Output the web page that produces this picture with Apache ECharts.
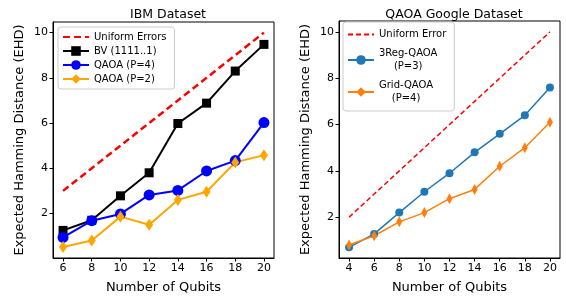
<!DOCTYPE html>
<html>
<head>
<meta charset="utf-8">
<script src="https://cdn.jsdelivr.net/npm/echarts@6/dist/echarts.min.js"></script>
<style>
  html, body { margin: 0; padding: 0; background: #fff; }
  #chart { width: 566px; height: 299px; }
</style>
</head>
<body>
<div id="chart"></div>
<script>
// IBM dataset (left)
const ibmQubits = [6, 8, 10, 12, 14, 16, 18, 20]
const ibmUniform = [3, 4, 5, 6, 7, 8, 9, 10]
const ibmBV = [1.25, 1.7, 2.78, 3.8, 5.98, 6.88, 8.3, 9.48]
const ibmQaoaP4 = [0.94, 1.68, 1.98, 2.82, 3.02, 3.88, 4.34, 6.02]
const ibmQaoaP2 = [0.52, 0.8, 1.86, 1.5, 2.6, 2.96, 4.26, 4.58]

// Google dataset (right)
const googleQubits = [4, 6, 8, 10, 12, 14, 16, 18, 20]
const googleUniform = [2, 3, 4, 5, 6, 7, 8, 9, 10]
const google3Reg = [0.7, 1.28, 2.2, 3.1, 3.9, 4.8, 5.6, 6.4, 7.6]
const googleGrid = [0.8, 1.2, 1.8, 2.2, 2.8, 3.2, 4.2, 5.0, 6.1]

const ibmTicks = [6, 8, 10, 12, 14, 16, 18, 20]
const googleTicks = [4, 6, 8, 10, 12, 14, 16, 18, 20]
const yTicks = [2, 4, 6, 8, 10]

const font = 'DejaVu Sans'
const pairs = (xs, ys) => xs.map((x, i) => [x, ys[i]])
// legend entry showing only the dashed line, no marker
const lineOnly = name => ({ name, itemStyle: { opacity: 0 } })

function xAxisFor(gridIndex, min, max, ticks) {
  return {
    type: 'value',
    gridIndex,
    min,
    max,
    name: 'Number of Qubits',
    nameLocation: 'middle',
    nameGap: 23,
    nameTextStyle: { fontFamily: font, fontSize: 13, color: '#000' },
    splitLine: { show: false },
    axisLine: { show: true, onZero: false, lineStyle: { color: '#000', width: 1 } },
    axisTick: { show: true, inside: false, length: 3.5, customValues: ticks, lineStyle: { color: '#000' } },
    axisLabel: { customValues: ticks, fontFamily: font, fontSize: 11, color: '#000', margin: 5 }
  }
}

function yAxisFor(gridIndex, min, max) {
  return {
    type: 'value',
    gridIndex,
    min,
    max,
    name: 'Expected Hamming Distance (EHD)',
    nameLocation: 'middle',
    nameGap: 27,
    nameTextStyle: { fontFamily: font, fontSize: 13, color: '#000' },
    splitLine: { show: false },
    axisLine: { show: true, onZero: false, lineStyle: { color: '#000', width: 1 } },
    axisTick: { show: true, inside: false, length: 3.5, customValues: yTicks, lineStyle: { color: '#000' } },
    axisLabel: { customValues: yTicks, fontFamily: font, fontSize: 11, color: '#000', margin: 5 }
  }
}

const chart = echarts.init(document.getElementById('chart'), null, { renderer: 'canvas' })

chart.setOption({
  animation: false,
  backgroundColor: '#fff',
  title: [
    { text: 'IBM Dataset', left: 163, top: 3, textAlign: 'center',
      textStyle: { fontFamily: font, fontSize: 12.5, fontWeight: 'normal', color: '#000' } },
    { text: 'QAOA Google Dataset', left: 449, top: 3, textAlign: 'center',
      textStyle: { fontFamily: font, fontSize: 12.5, fontWeight: 'normal', color: '#000' } }
  ],
  grid: [
    { left: 53, top: 22, width: 221, height: 239, show: true, borderColor: '#000', borderWidth: 1 },
    { left: 339, top: 21, width: 221, height: 240, show: true, borderColor: '#000', borderWidth: 1 }
  ],
  legend: [
    {
      data: [lineOnly('Uniform Errors'), 'BV (1111..1)', 'QAOA (P=4)', 'QAOA (P=2)'],
      orient: 'vertical', left: 58, top: 27,
      padding: [5, 8, 5, 4], itemGap: 4, itemWidth: 26, itemHeight: 12,
      backgroundColor: 'rgba(255,255,255,0.8)', borderColor: '#ccc', borderWidth: 1, borderRadius: 3,
      textStyle: { fontFamily: font, fontSize: 10, color: '#000' }
    },
    {
      data: [lineOnly('Uniform Error'), '3Reg-QAOA\n(P=3)', 'Grid-QAOA\n(P=4)'],
      orient: 'vertical', left: 343, top: 22,
      padding: [6, 8, 6, 4], itemGap: 6, itemWidth: 26, itemHeight: 12,
      backgroundColor: 'rgba(255,255,255,0.8)', borderColor: '#ccc', borderWidth: 1, borderRadius: 3,
      formatter: name => name.indexOf('\n') < 0 ? name
        : name.split('\n').map(s => '{c|' + s + '}').join('\n'),
      textStyle: {
        fontFamily: font, fontSize: 10, color: '#000', lineHeight: 13,
        rich: { c: { align: 'center', fontFamily: font, fontSize: 10, lineHeight: 13 } }
      }
    }
  ],
  xAxis: [
    xAxisFor(0, 5.3, 20.7, ibmTicks),
    xAxisFor(1, 3.2, 20.8, googleTicks)
  ],
  yAxis: [
    yAxisFor(0, 0.03, 10.47),
    yAxisFor(1, 0.24, 10.47)
  ],
  series: [
    {
      name: 'Uniform Errors', type: 'line', xAxisIndex: 0, yAxisIndex: 0,
      data: pairs(ibmQubits, ibmUniform), symbol: 'none',
      lineStyle: { color: '#ff0000', width: 2.5, type: [7, 4] }, itemStyle: { color: '#ff0000' }
    },
    {
      name: 'BV (1111..1)', type: 'line', xAxisIndex: 0, yAxisIndex: 0,
      data: pairs(ibmQubits, ibmBV), symbol: 'rect', symbolSize: 9,
      lineStyle: { color: '#000', width: 2 }, itemStyle: { color: '#000' }
    },
    {
      name: 'QAOA (P=4)', type: 'line', xAxisIndex: 0, yAxisIndex: 0,
      data: pairs(ibmQubits, ibmQaoaP4), symbol: 'circle', symbolSize: 11,
      lineStyle: { color: '#0000ff', width: 2 }, itemStyle: { color: '#0000ff' }
    },
    {
      name: 'QAOA (P=2)', type: 'line', xAxisIndex: 0, yAxisIndex: 0,
      data: pairs(ibmQubits, ibmQaoaP2), symbol: 'diamond', symbolSize: [8, 12],
      lineStyle: { color: '#ffa500', width: 2 }, itemStyle: { color: '#ffa500' }
    },
    {
      name: 'Uniform Error', type: 'line', xAxisIndex: 1, yAxisIndex: 1,
      data: pairs(googleQubits, googleUniform), symbol: 'none',
      lineStyle: { color: '#ff0000', width: 1.5, type: [5, 3] }, itemStyle: { color: '#ff0000' }
    },
    {
      name: '3Reg-QAOA\n(P=3)', type: 'line', xAxisIndex: 1, yAxisIndex: 1,
      data: pairs(googleQubits, google3Reg), symbol: 'circle', symbolSize: 8,
      lineStyle: { color: '#1f77b4', width: 1.5 }, itemStyle: { color: '#1f77b4' }
    },
    {
      name: 'Grid-QAOA\n(P=4)', type: 'line', xAxisIndex: 1, yAxisIndex: 1,
      data: pairs(googleQubits, googleGrid), symbol: 'diamond', symbolSize: [6, 11],
      lineStyle: { color: '#ff7f0e', width: 1.5 }, itemStyle: { color: '#ff7f0e' }
    }
  ]
})
</script>
</body>
</html>
